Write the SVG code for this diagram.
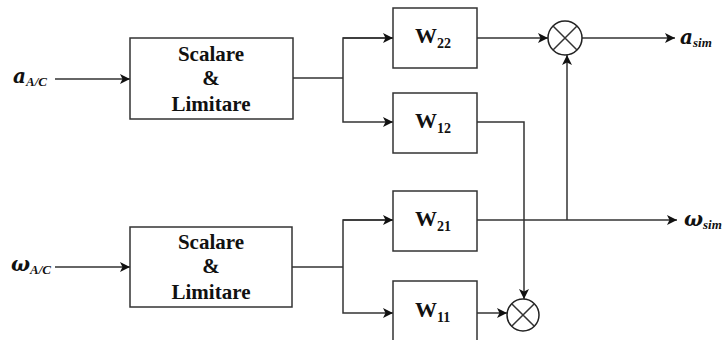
<svg xmlns="http://www.w3.org/2000/svg" width="725" height="340" viewBox="0 0 725 340">
  <defs>
    <marker id="arrow" viewBox="0 0 10 10" refX="10" refY="5" markerWidth="10" markerHeight="10" markerUnits="userSpaceOnUse" orient="auto">
      <path d="M0,0 L10,5 L0,10 L2.5,5 Z" fill="#111"/>
    </marker>
    <style>
      .box { fill: #fff; stroke: #333; stroke-width: 1.5; }
      .wire { fill: none; stroke: #333; stroke-width: 1.5; }
      .mul { fill: #fff; stroke: #222; stroke-width: 1.5; }
      text { font-family: 'Liberation Serif', 'DejaVu Serif', serif; font-weight: bold; fill: #111; }
      .lbl { font-size: 21px; text-anchor: middle; }
      .w { font-size: 22px; }
      .wsub { font-size: 14px; }
      .sym { font-family: 'DejaVu Serif', serif; font-style: italic; font-size: 20px; }
      .sub { font-family: 'Liberation Serif', serif; font-size: 13px; }
    </style>
  </defs>
  <rect width="725" height="340" fill="#fff"/>

  <!-- connectors -->
  <g id="connectors">
    <line class="wire" x1="55" y1="79" x2="130" y2="79" marker-end="url(#arrow)"/>
    <line class="wire" x1="55" y1="267" x2="130" y2="267" marker-end="url(#arrow)"/>
    <!-- upper splitter -->
    <polyline class="wire" points="293,78 343,78"/>
    <polyline class="wire" points="393,38 343,38 343,122 393,122" marker-end="url(#arrow)"/>
    <line class="wire" x1="343" y1="38" x2="393" y2="38" marker-end="url(#arrow)"/>
    <!-- lower splitter -->
    <polyline class="wire" points="292,267 343,267"/>
    <polyline class="wire" points="393,220 343,220 343,313 393,313" marker-end="url(#arrow)"/>
    <line class="wire" x1="343" y1="220" x2="393" y2="220" marker-end="url(#arrow)"/>
    <!-- W22 to top multiplier and its output -->
    <line class="wire" x1="477" y1="38" x2="548" y2="38" marker-end="url(#arrow)"/>
    <line class="wire" x1="582" y1="38" x2="675" y2="38" marker-end="url(#arrow)"/>
    <!-- W12 down to bottom multiplier -->
    <polyline class="wire" points="477,122 524,122 524,299" marker-end="url(#arrow)"/>
    <!-- W21 output and branch up to top multiplier -->
    <line class="wire" x1="477" y1="220" x2="677" y2="220" marker-end="url(#arrow)"/>
    <line class="wire" x1="567" y1="220" x2="567" y2="55" marker-end="url(#arrow)"/>
    <!-- W11 to bottom multiplier -->
    <line class="wire" x1="477" y1="313" x2="507" y2="313" marker-end="url(#arrow)"/>
  </g>

  <g id="in-a">
    <text class="sym" x="13" y="83">a<tspan class="sub" dy="3" font-style="italic">A/C</tspan></text>
  </g>
  <g id="in-w">
    <text class="sym" x="11" y="271">ω<tspan class="sub" dy="3" font-style="italic">A/C</tspan></text>
  </g>

  <g id="scale-top">
    <rect class="box" x="130" y="38" width="163" height="81"/>
    <text class="lbl" x="211" y="61">Scalare</text>
    <text class="lbl" x="211" y="85">&amp;</text>
    <text class="lbl" x="211" y="111">Limitare</text>
  </g>
  <g id="scale-bottom">
    <rect class="box" x="130" y="227" width="162" height="80"/>
    <text class="lbl" x="211" y="249">Scalare</text>
    <text class="lbl" x="211" y="273">&amp;</text>
    <text class="lbl" x="211" y="299">Limitare</text>
  </g>

  <g id="w22">
    <rect class="box" x="393" y="8" width="84" height="60"/>
    <text class="w" x="415" y="43">W<tspan class="wsub" dy="5">22</tspan></text>
  </g>
  <g id="w12">
    <rect class="box" x="393" y="93" width="84" height="60"/>
    <text class="w" x="415" y="128">W<tspan class="wsub" dy="5">12</tspan></text>
  </g>
  <g id="w21">
    <rect class="box" x="393" y="191" width="84" height="60"/>
    <text class="w" x="415" y="226">W<tspan class="wsub" dy="5">21</tspan></text>
  </g>
  <g id="w11">
    <rect class="box" x="393" y="281" width="84" height="70"/>
    <text class="w" x="415" y="317">W<tspan class="wsub" dy="5">11</tspan></text>
  </g>

  <g id="mul-top">
    <circle class="mul" cx="565" cy="38" r="17"/>
    <path class="wire" d="M553,26 L577,50 M577,26 L553,50"/>
  </g>
  <g id="mul-bottom">
    <circle class="mul" cx="523" cy="315" r="16"/>
    <path class="wire" d="M511.7,303.7 L534.3,326.3 M534.3,303.7 L511.7,326.3"/>
  </g>

  <g id="out-a">
    <text class="sym" x="680" y="44">a<tspan class="sub" dy="3" font-style="italic">sim</tspan></text>
  </g>
  <g id="out-w">
    <text class="sym" x="684" y="226">ω<tspan class="sub" dy="3" font-style="italic">sim</tspan></text>
  </g>
</svg>
